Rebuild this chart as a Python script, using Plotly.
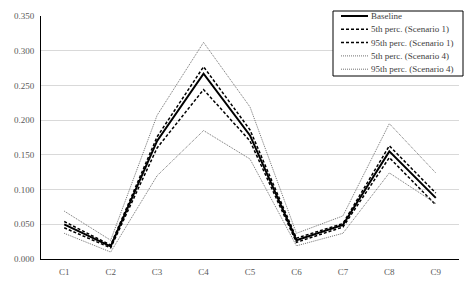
import plotly.graph_objects as go

categories = ["C1", "C2", "C3", "C4", "C5", "C6", "C7", "C8", "C9"]
baseline = [0.050, 0.018, 0.170, 0.267, 0.178, 0.027, 0.049, 0.155, 0.088]
p5_s1 = [0.045, 0.016, 0.160, 0.244, 0.170, 0.024, 0.046, 0.146, 0.078]
p95_s1 = [0.054, 0.020, 0.176, 0.277, 0.186, 0.030, 0.051, 0.163, 0.095]
p5_s4 = [0.037, 0.010, 0.120, 0.185, 0.144, 0.019, 0.037, 0.124, 0.080]
p95_s4 = [0.069, 0.027, 0.207, 0.312, 0.219, 0.037, 0.062, 0.195, 0.124]

series = [
    ("Baseline", baseline, dict(color="black", width=2, dash="solid")),
    ("5th perc. (Scenario 1)", p5_s1, dict(color="black", width=1.5, dash="3px,2px")),
    ("95th perc. (Scenario 1)", p95_s1, dict(color="black", width=1.5, dash="3px,2px")),
    ("5th perc. (Scenario 4)", p5_s4, dict(color="#707070", width=1, dash="1px,1px")),
    ("95th perc. (Scenario 4)", p95_s4, dict(color="#707070", width=1, dash="1px,1px")),
]

W, H = 474, 285
ML, MR, MT, MB = 41, 15, 16, 26
PW, PH = W - ML - MR, H - MT - MB

def px(x):
    return (x - ML) / PW

def py(y):
    return (H - MB - y) / PH

fig = go.Figure()
for name, vals, line in series:
    fig.add_trace(go.Scatter(x=categories, y=vals, mode="lines", name=name, line=line,
                             showlegend=False))

font = "Liberation Serif, DejaVu Serif, serif"

# manual compact legend
shapes = [dict(type="rect", xref="paper", yref="paper",
               x0=px(333), x1=px(463), y0=py(76), y1=py(11),
               line=dict(color="black", width=1), fillcolor="white", layer="above")]
annotations = []
row_y = [16, 29.3, 42.6, 55.9, 69.2]
for (name, vals, line), ry in zip(series, row_y):
    shapes.append(dict(type="line", xref="paper", yref="paper",
                       x0=px(341), x1=px(368), y0=py(ry), y1=py(ry),
                       line=line, layer="above"))
    annotations.append(dict(xref="paper", yref="paper", x=px(369), y=py(ry),
                            xanchor="left", yanchor="middle", showarrow=False,
                            text=name, font=dict(family=font, size=9, color="#404040")))

fig.update_layout(
    width=W, height=H,
    margin=dict(l=ML, r=MR, t=MT, b=MB),
    paper_bgcolor="white", plot_bgcolor="white",
    font=dict(family=font, size=9, color="#595959"),
    showlegend=False,
    shapes=shapes, annotations=annotations,
    xaxis=dict(range=[-0.5, 8.5], showline=True, linecolor="black", linewidth=1,
               showgrid=False, ticks="", ticklabelstandoff=4, automargin=False,
               tickfont=dict(size=9, color="#595959")),
    yaxis=dict(range=[0, 0.35], dtick=0.05, tickformat=".3f",
               showline=True, linecolor="black", linewidth=1,
               showgrid=True, gridcolor="#d9d9d9", gridwidth=1,
               zeroline=False, ticks="", ticklabelstandoff=4, automargin=False,
               tickfont=dict(size=9, color="#595959")),
)

fig.write_html("out.html")
